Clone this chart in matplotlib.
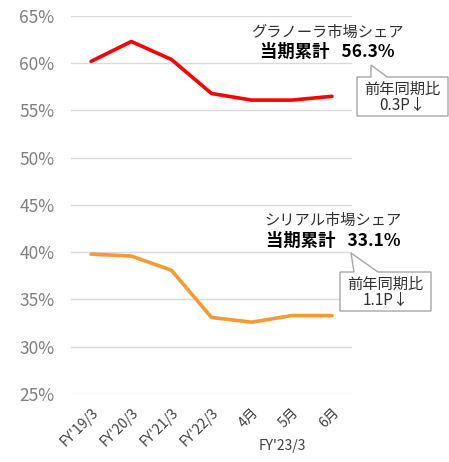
import matplotlib
matplotlib.use("Agg")
import matplotlib.pyplot as plt
from matplotlib.patches import Polygon

plt.rcParams['font.family'] = ['Noto Sans CJK JP', 'DejaVu Sans']

categories = ["FY'19/3", "FY'20/3", "FY'21/3", "FY'22/3", "4月", "5月", "6月"]
granola = [60.2, 62.3, 60.4, 56.8, 56.1, 56.1, 56.5]
cereal = [39.8, 39.6, 38.1, 33.1, 32.6, 33.3, 33.3]
yticks = [25, 30, 35, 40, 45, 50, 55, 60, 65]

W, H = 449, 462
fig = plt.figure(figsize=(W / 100, H / 100), dpi=100)
ax = fig.add_axes([71 / W, 1 - 394 / H, (352 - 71) / W, (394 - 16) / H])

x = list(range(len(categories)))
ax.plot(x, granola, color='#FF0000', lw=2.6, solid_joinstyle='round', solid_capstyle='round', zorder=3)
ax.plot(x, cereal, color='#F79A32', lw=2.6, solid_joinstyle='round', solid_capstyle='round', zorder=3)

ax.set_xlim(-0.5, len(categories) - 0.5)
ax.set_ylim(25, 65)
ax.set_yticks(yticks)
ax.set_yticklabels([f"{v}%" for v in yticks], fontsize=12.5, color='#7F7F7F')
ax.set_xticks(x)
ax.set_xticklabels(categories, rotation=45, ha='right', rotation_mode='anchor', fontsize=10, color='#404040')
ax.tick_params(axis='both', length=0)
ax.tick_params(axis='y', pad=12)
ax.tick_params(axis='x', pad=8)
ax.grid(axis='y', color='#D9D9D9', lw=1)
ax.set_axisbelow(True)
for s in ax.spines.values():
    s.set_visible(False)

def fx(px):
    return px / W

def fy(py):
    return 1 - py / H

fig.text(fx(282), fy(446), "FY'23/3", ha='center', va='center', fontsize=10, color='#404040')

def label(cx, y1, y2, name, total):
    fig.text(fx(cx), fy(y1), name, ha='center', va='center', fontsize=11, color='#303030')
    fig.text(fx(cx), fy(y2), total, ha='center', va='center', fontsize=12.5, fontweight='bold', color='#000000')

label(327, 32, 52, "グラノーラ市場シェア", "当期累計   56.3%")
label(333, 220, 241, "シリアル市場シェア", "当期累計   33.1%")

def callout(x0, y0, x1, y1, tip, b1, b2, line1, line2):
    pts = [(x0, y0), (b1, y0), tip, (b2, y0), (x1, y0), (x1, y1), (x0, y1)]
    poly = Polygon([(fx(a), fy(b)) for a, b in pts], closed=True, transform=fig.transFigure,
                   facecolor='white', edgecolor='#A6A6A6', lw=1, zorder=5)
    fig.patches.append(poly)
    cx = (x0 + x1) / 2
    fig.text(fx(cx), fy(y0 + 12), line1, ha='center', va='center', fontsize=11, color='#303030', zorder=6)
    fig.text(fx(cx), fy(y0 + 28), line2, ha='center', va='center', fontsize=11, color='#303030', zorder=6)

callout(357, 77, 448, 116, (371, 65), 371, 387, "前年同期比", "0.3P↓")
callout(340, 272, 431, 311, (351, 253), 354, 378, "前年同期比", "1.1P↓")

fig.savefig("out.png", dpi=100)
